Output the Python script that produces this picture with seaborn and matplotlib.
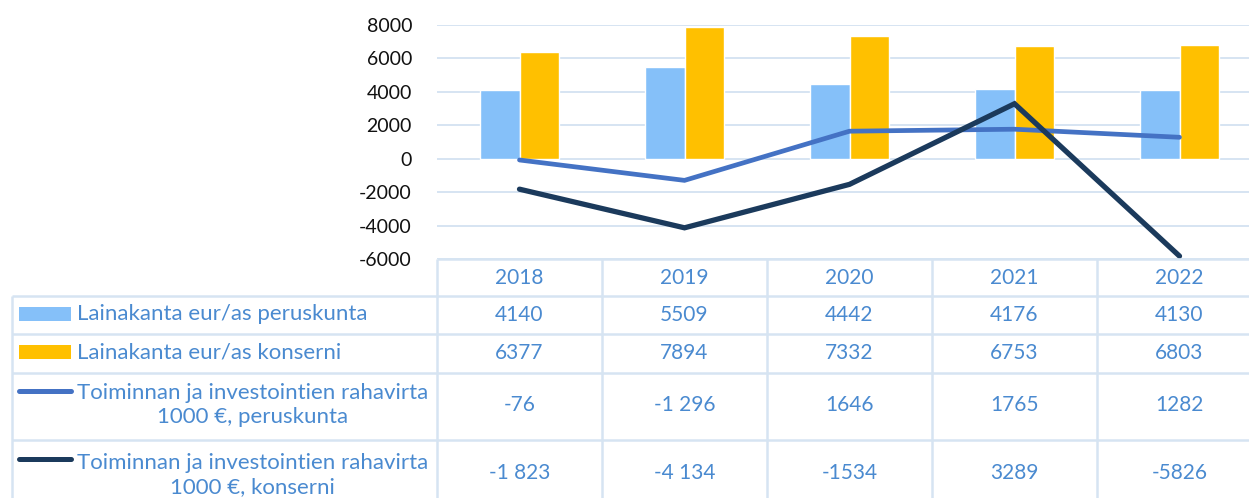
import numpy as np
import pandas as pd
import matplotlib
matplotlib.use("Agg")
import matplotlib.pyplot as plt
import seaborn as sns

years = ["2018", "2019", "2020", "2021", "2022"]
loan_perus = [4140, 5509, 4442, 4176, 4130]
loan_kons = [6377, 7894, 7332, 6753, 6803]
flow_perus = [-76, -1296, 1646, 1765, 1282]
flow_kons = [-1823, -4134, -1534, 3289, -5826]

# how the data table prints the values (as in the original sheet)
txt_loan_perus = ["4140", "5509", "4442", "4176", "4130"]
txt_loan_kons = ["6377", "7894", "7332", "6753", "6803"]
txt_flow_perus = ["-76", "-1 296", "1646", "1765", "1282"]
txt_flow_kons = ["-1 823", "-4 134", "-1534", "3289", "-5826"]

names = ["Lainakanta eur/as peruskunta",
         "Lainakanta eur/as konserni",
         "Toiminnan ja investointien rahavirta\n1000 €, peruskunta",
         "Toiminnan ja investointien rahavirta\n1000 €, konserni"]
colors = ["#85C0F9", "#FFC000", "#4472C4", "#1B3A5C"]
txt_col = "#4A8AD0"
grid_col = "#D6E4F2"

sns.set_style("white")
plt.rcParams["font.family"] = ["Lato", "DejaVu Sans"]
plt.rcParams["axes.unicode_minus"] = False

W, H = 1249, 498
fig = plt.figure(figsize=(W / 100, H / 100), dpi=100)

# plot area in pixel terms
x0, x1, y_top, y_bot = 437, 1262, 25, 259
ax = fig.add_axes([x0 / W, 1 - y_bot / H, (x1 - x0) / W, (y_bot - y_top) / H])

bars = pd.DataFrame({
    "year": years * 2,
    "value": loan_perus + loan_kons,
    "series": [names[0]] * len(years) + [names[1]] * len(years),
})
sns.barplot(data=bars, x="year", y="value", hue="series", palette=colors[:2],
            width=0.475, gap=0, saturation=1, legend=False, ax=ax, zorder=2)

pos = np.arange(len(years))
sns.lineplot(x=pos, y=flow_perus, color=colors[2], lw=3.4, ax=ax, zorder=3,
             solid_capstyle="round", solid_joinstyle="miter")
sns.lineplot(x=pos, y=flow_kons, color=colors[3], lw=3.8, ax=ax, zorder=3,
             solid_capstyle="round", solid_joinstyle="miter")

ax.set_xlim(-0.5, len(years) - 0.5)
ax.set_ylim(-6000, 8000)
ax.set_yticks(range(-6000, 8001, 2000))
ax.set_xticks([])
ax.set_xlabel("")
ax.set_ylabel("")
ax.yaxis.grid(True, color=grid_col, lw=1.4, zorder=0)
ax.set_axisbelow(True)
ax.tick_params(axis="y", length=0, pad=18, labelsize=14, labelcolor="#111111")
for s in ax.spines.values():
    s.set_visible(False)

# data table underneath, drawn in pixel coordinates
tb = fig.add_axes([0, 0, 1, 1], zorder=5)
tb.set_xlim(0, W)
tb.set_ylim(H, 0)
tb.axis("off")
tb.patch.set_alpha(0)

col_w = (x1 - x0) / len(years)
row_lines = [259, 296, 334, 373, 440]
lw = 1.8
tb.hlines(row_lines[0], x0, W + 20, color=grid_col, lw=lw)
tb.hlines(row_lines[1:], 12, W + 20, color=grid_col, lw=lw)
tb.vlines(12, row_lines[1], H + 20, color=grid_col, lw=lw)
for i in range(len(years) + 1):
    tb.vlines(x0 + i * col_w, row_lines[0], H + 20, color=grid_col, lw=lw)

fs = 15
fs_name = 16
row_y = [277.5, 315, 353, 405, 473]
for i, y in enumerate(years):
    cx = x0 + (i + 0.5) * col_w
    tb.text(cx, row_y[0], y, ha="center", va="center", fontsize=fs, color=txt_col)
    for r, vals in enumerate([txt_loan_perus, txt_loan_kons, txt_flow_perus, txt_flow_kons]):
        tb.text(cx, row_y[r + 1], vals[i], ha="center", va="center",
                fontsize=fs, color=txt_col)

# legend keys and series names
tb.add_patch(plt.Rectangle((19, 307), 52, 14, color=colors[0], lw=0))
tb.add_patch(plt.Rectangle((19, 345), 52, 14, color=colors[1], lw=0))
tb.text(77, 314, names[0], ha="left", va="center", fontsize=fs_name, color=txt_col)
tb.text(77, 352, names[1], ha="left", va="center", fontsize=fs_name, color=txt_col)
tb.plot([19, 71], [391, 391], color=colors[2], lw=3.6, solid_capstyle="round")
tb.plot([19, 71], [459, 459], color=colors[3], lw=3.6, solid_capstyle="round")
tb.text(252.5, 405, names[2], ha="center", va="center", multialignment="center",
        fontsize=fs_name, color=txt_col, linespacing=1.2)
tb.text(252.5, 475, names[3], ha="center", va="center", multialignment="center",
        fontsize=fs_name, color=txt_col, linespacing=1.2)

fig.savefig("out.png", dpi=100)
